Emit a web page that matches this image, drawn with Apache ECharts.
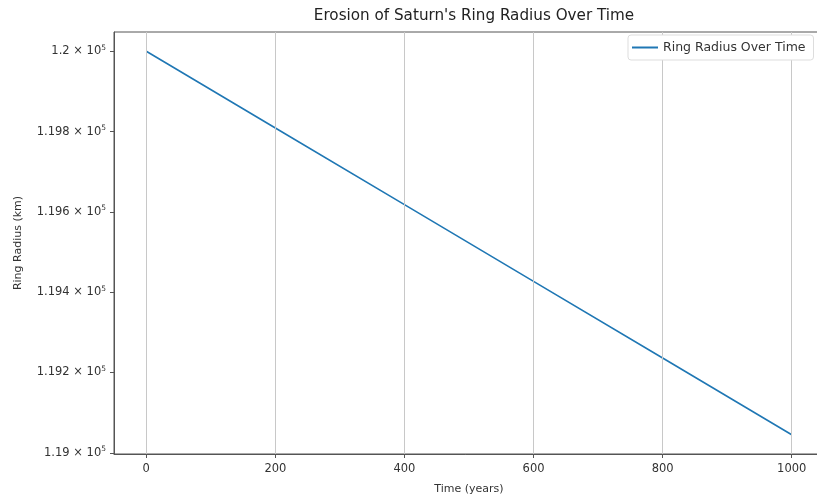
<!DOCTYPE html>
<html><head><meta charset="utf-8">
<script src="https://cdn.jsdelivr.net/npm/echarts@6/dist/echarts.min.js"></script>
<style>html,body{margin:0;padding:0;background:#fff}#c{width:817px;height:496px}</style>
</head><body><div id="c"></div>
<script>
const years = [0, 200, 400, 600, 800, 1000];
const radius = [120000, 119809, 119618, 119427, 119236, 119045];
const xTicks = [0, 200, 400, 600, 800, 1000];
const yTicks = [119000, 119200, 119400, 119600, 119800, 120000];

const font = 'DejaVu Sans, sans-serif';
const chart = echarts.init(document.getElementById('c'));
function sci(v) {
  const m = (v / 1e5).toString();
  return '{m|' + m + ' × 10}{s|5}';
}
chart.setOption({
  animation: false,
  title: {
    text: "Erosion of Saturn's Ring Radius Over Time",
    left: 469, top: 4, textAlign: 'center',
    textStyle: { fontFamily: font, fontSize: 15.2, fontWeight: 'normal', color: '#222' }
  },
  legend: {
    left: 628, top: 35, z: 20, zlevel: 1,
    itemWidth: 26, itemHeight: 2, itemGap: 9,
    icon: 'rect',
    backgroundColor: '#fff', borderColor: '#ddd', borderWidth: 1, borderRadius: 3,
    padding: [6, 8, 6, 4],
    textStyle: { fontFamily: font, fontSize: 12.5, color: '#333' },
    data: ['Ring Radius Over Time']
  },
  grid: { left: 114, top: 32, right: -7, bottom: 42, show: true, borderColor: '#555', borderWidth: 1, outerBoundsMode: 'none', containLabel: false },
  xAxis: {
    type: 'value', min: -50, max: 1050,
    name: 'Time (years)', nameLocation: 'middle', nameGap: 30,
    nameTextStyle: { fontFamily: font, fontSize: 11, color: '#333' },
    axisLine: { show: true, onZero: false, lineStyle: { color: '#555' } },
    axisTick: { show: true, customValues: xTicks, length: 4, lineStyle: { color: '#555' } },
    axisLabel: { customValues: xTicks, formatter: v => String(v), fontFamily: font, fontSize: 11.5, color: '#333', margin: 9 },
    splitLine: { show: false }
  },
  yAxis: {
    type: 'value', min: 118997, max: 120048,
    name: 'Ring Radius (km)', nameLocation: 'middle', nameGap: 90, nameRotate: 90,
    nameTextStyle: { fontFamily: font, fontSize: 11, color: '#333' },
    axisLine: { show: true, onZero: false, lineStyle: { color: '#555' } },
    axisTick: { show: true, customValues: yTicks, length: 4, lineStyle: { color: '#555' } },
    axisLabel: {
      customValues: yTicks, margin: 8,
      formatter: sci,
      rich: {
        m: { fontFamily: font, fontSize: 11.5, color: '#333' },
        s: { fontFamily: font, fontSize: 7.5, color: '#333', padding: [0, 0, 7, 0] }
      }
    },
    splitLine: { show: false }
  },
  series: [{
    name: 'Ring Radius Over Time',
    type: 'line',
    data: years.map((y, i) => [y, radius[i]]),
    showSymbol: false,
    lineStyle: { color: '#1f77b4', width: 1.6 },
    itemStyle: { color: '#1f77b4' },
    markLine: {
      silent: true, symbol: 'none', label: { show: false },
      lineStyle: { color: '#c8c8c8', type: 'solid', width: 1 },
      data: xTicks.map(v => ({ xAxis: v }))
    },
    z: 3
  }]
});
</script></body></html>
